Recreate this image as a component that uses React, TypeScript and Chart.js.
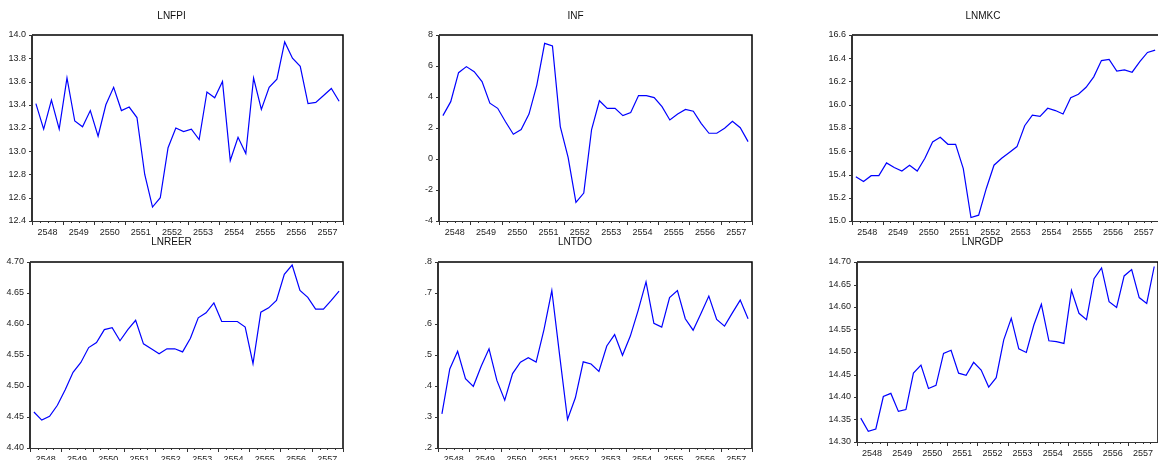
import React, { useEffect, useRef } from 'react';
import { Chart, registerables } from 'chart.js';

Chart.register(...registerables);

const FONT = "'Liberation Sans', Arial, Helvetica, sans-serif";

// Tick labels (Thai Buddhist-era years), quarterly data 2548Q1 - 2557Q4
const years = ['2548', '2549', '2550', '2551', '2552', '2553', '2554', '2555', '2556', '2557'];
const quartersPerYear = 4;

const lnfpi = [
  13.41, 13.19, 13.44, 13.19, 13.63, 13.26, 13.21, 13.35, 13.13, 13.40,
  13.55, 13.35, 13.38, 13.29, 12.80, 12.52, 12.60, 13.03, 13.20, 13.17,
  13.19, 13.10, 13.51, 13.46, 13.60, 12.92, 13.12, 12.98, 13.63, 13.36,
  13.55, 13.62, 13.94, 13.80, 13.73, 13.41, 13.42, 13.48, 13.54, 13.43,
];

const inf = [
  2.8, 3.7, 5.57, 5.96, 5.63, 5.0, 3.6, 3.27, 2.4, 1.6,
  1.9, 2.9, 4.77, 7.46, 7.29, 2.09, 0.1, -2.8, -2.2, 1.9,
  3.76, 3.27, 3.27, 2.8, 3.0, 4.09, 4.09, 3.96, 3.38, 2.52,
  2.9, 3.2, 3.08, 2.3, 1.66, 1.66, 1.98, 2.43, 2.02, 1.12,
];

const lnmkc = [
  15.38, 15.34, 15.39, 15.39, 15.50, 15.46, 15.43, 15.48, 15.43, 15.54,
  15.68, 15.72, 15.66, 15.66, 15.45, 15.03, 15.05, 15.28, 15.48, 15.54,
  15.59, 15.64, 15.82, 15.91, 15.90, 15.97, 15.95, 15.92, 16.06, 16.09,
  16.15, 16.24, 16.38, 16.39, 16.29, 16.30, 16.28, 16.37, 16.45, 16.47,
];

const lnreer = [
  4.458, 4.445, 4.451, 4.469, 4.494, 4.522, 4.538, 4.562, 4.570, 4.591,
  4.594, 4.573, 4.591, 4.606, 4.568, 4.560, 4.552, 4.560, 4.560, 4.555,
  4.577, 4.610, 4.618, 4.634, 4.604, 4.604, 4.604, 4.595, 4.536, 4.619,
  4.626, 4.638, 4.680, 4.695, 4.654, 4.643, 4.624, 4.624, 4.638, 4.653,
];

const lntdo = [
  0.310, 0.455, 0.512, 0.424, 0.399, 0.464, 0.520, 0.418, 0.354, 0.440,
  0.477, 0.491, 0.477, 0.582, 0.708, 0.498, 0.292, 0.362, 0.478, 0.471,
  0.447, 0.529, 0.566, 0.499, 0.561, 0.644, 0.736, 0.602, 0.590, 0.685,
  0.708, 0.617, 0.580, 0.634, 0.690, 0.615, 0.593, 0.636, 0.677, 0.617,
];

const lnrgdp = [
  14.353, 14.324, 14.329, 14.401, 14.408, 14.368, 14.372, 14.453, 14.471, 14.419,
  14.426, 14.497, 14.504, 14.453, 14.448, 14.477, 14.460, 14.422, 14.443, 14.527,
  14.575, 14.507, 14.499, 14.560, 14.606, 14.525, 14.523, 14.519, 14.637, 14.586,
  14.572, 14.663, 14.687, 14.612, 14.599, 14.669, 14.683, 14.621, 14.608, 14.690,
];

type Spec = {
  title: string;
  values: number[];
  yMin: number;
  yMax: number;
  yStep: number;
  fmt: (v: number) => string;
  plotL: number;
  plotR: number;
  plotT: number;
  plotB: number;
  yAxisW: number;
  canvasTop: number;
  canvasBottom: number;
  titleY: number;
};

const f1 = (v: number) => v.toFixed(1);
const f2 = (v: number) => v.toFixed(2);
const f0 = (v: number) => String(Math.round(v));
const fDot = (v: number) => v.toFixed(1).replace(/^0/, '');

const specs: Spec[] = [
  { title: 'LNFPI', values: lnfpi, yMin: 12.4, yMax: 14.0, yStep: 0.2, fmt: f1,
    plotL: 32, plotR: 343, plotT: 35, plotB: 221, yAxisW: 32, canvasTop: 0, canvasBottom: 240, titleY: 16 },
  { title: 'INF', values: inf, yMin: -4, yMax: 8, yStep: 2, fmt: f0,
    plotL: 439, plotR: 752, plotT: 35, plotB: 221, yAxisW: 40, canvasTop: 0, canvasBottom: 240, titleY: 16 },
  { title: 'LNMKC', values: lnmkc, yMin: 15.0, yMax: 16.6, yStep: 0.2, fmt: f1,
    plotL: 852, plotR: 1159, plotT: 35, plotB: 221, yAxisW: 45, canvasTop: 0, canvasBottom: 240, titleY: 16 },
  { title: 'LNREER', values: lnreer, yMin: 4.4, yMax: 4.7, yStep: 0.05, fmt: f2,
    plotL: 30, plotR: 343, plotT: 262, plotB: 448, yAxisW: 30, canvasTop: 225, canvasBottom: 460, titleY: 242.5 },
  { title: 'LNTDO', values: lntdo, yMin: 0.2, yMax: 0.8, yStep: 0.1, fmt: fDot,
    plotL: 438, plotR: 752, plotT: 262, plotB: 448, yAxisW: 40, canvasTop: 225, canvasBottom: 460, titleY: 242.5 },
  { title: 'LNRGDP', values: lnrgdp, yMin: 14.3, yMax: 14.7, yStep: 0.05, fmt: f2,
    plotL: 857, plotR: 1158, plotT: 262, plotB: 442, yAxisW: 50, canvasTop: 225, canvasBottom: 460, titleY: 242.5 },
];

const framePlugin = {
  id: 'eviewsFrame',
  afterDraw(chart: any) {
    const { ctx, chartArea } = chart;
    const { left, right, top, bottom } = chartArea;
    const xs = chart.scales.x;
    const ys = chart.scales.y;
    ctx.save();
    // y tick marks (outward)
    ctx.strokeStyle = '#333';
    ctx.lineWidth = 1;
    ctx.beginPath();
    ys.ticks.forEach((t: any) => {
      const py = Math.round(ys.getPixelForValue(t.value)) + 0.5;
      ctx.moveTo(left - 3, py);
      ctx.lineTo(left, py);
    });
    // x tick marks: major at year boundaries, minor at quarters
    xs.ticks.forEach((t: any) => {
      const px = Math.round(xs.getPixelForValue(t.value)) + 0.5;
      const len = t.value % quartersPerYear === 0 ? 4 : 2;
      ctx.moveTo(px, bottom);
      ctx.lineTo(px, bottom + len);
    });
    ctx.stroke();
    // frame
    ctx.strokeStyle = '#000';
    ctx.lineWidth = 1.5;
    ctx.beginPath();
    ctx.moveTo(left, top);
    ctx.lineTo(right, top);
    ctx.lineTo(right, bottom);
    ctx.stroke();
    ctx.strokeStyle = '#333';
    ctx.lineWidth = 1;
    ctx.beginPath();
    ctx.moveTo(left, bottom + 0.5);
    ctx.lineTo(right, bottom + 0.5);
    ctx.stroke();
    ctx.lineWidth = 2;
    ctx.beginPath();
    ctx.moveTo(left, top);
    ctx.lineTo(left, bottom + 1);
    ctx.stroke();
    ctx.restore();
  },
};

function Panel({ spec }: { spec: Spec }) {
  const ref = useRef<HTMLCanvasElement>(null);
  const canvasLeft = spec.plotL - spec.yAxisW;
  const w = spec.plotL + spec.plotR - 2 * canvasLeft;
  const h = spec.canvasBottom - spec.canvasTop;
  const xAxisH = spec.canvasBottom - spec.plotB;
  const titlePadTop = spec.titleY - spec.canvasTop - 6;
  const titlePadBottom = spec.plotT - spec.canvasTop - 12 - titlePadTop;
  const nPoints = years.length * quartersPerYear;

  useEffect(() => {
    const chart = new Chart(ref.current as HTMLCanvasElement, {
      type: 'line',
      data: {
        datasets: [
          {
            data: spec.values.map((v, i) => ({ x: i + 0.5, y: v })),
            borderColor: '#0000ff',
            borderWidth: 1.2,
            pointRadius: 0,
            tension: 0,
            fill: false,
          },
        ],
      },
      options: {
        animation: false,
        responsive: false,
        events: [],
        layout: { padding: { left: 0, right: spec.yAxisW, top: 0, bottom: 0 } },
        plugins: {
          legend: { display: false },
          tooltip: { enabled: false },
          title: {
            display: true,
            text: spec.title,
            color: '#111',
            font: { family: FONT, size: 10, weight: 'normal', lineHeight: 1.2 },
            padding: { top: titlePadTop, bottom: titlePadBottom },
          },
        },
        scales: {
          x: {
            type: 'linear',
            min: 0,
            max: nPoints,
            grid: { display: false, drawTicks: false },
            border: { display: false },
            afterBuildTicks: (s: any) => {
              s.ticks = Array.from({ length: nPoints + 1 }, (_, i) => ({ value: i }));
            },
            afterFit: (s: any) => {
              s.height = xAxisH;
            },
            ticks: {
              autoSkip: false,
              maxRotation: 0,
              minRotation: 0,
              padding: 6,
              color: '#222',
              font: { family: FONT, size: 9 },
              callback: (v: any) =>
                v % quartersPerYear === 2 ? years[(v - 2) / quartersPerYear] : '',
            },
          },
          y: {
            min: spec.yMin,
            max: spec.yMax,
            grid: { display: false, drawTicks: false },
            border: { display: false },
            afterFit: (s: any) => {
              s.width = spec.yAxisW;
            },
            ticks: {
              stepSize: spec.yStep,
              padding: 6,
              color: '#222',
              font: { family: FONT, size: 9 },
              callback: (v: any) => spec.fmt(Number(v)),
            },
          },
        },
      } as any,
      plugins: [framePlugin],
    });
    return () => chart.destroy();
  }, []);

  return (
    <canvas
      ref={ref}
      width={w}
      height={h}
      style={{ position: 'absolute', left: canvasLeft, top: spec.canvasTop, width: w, height: h }}
    />
  );
}

export default function App() {
  return (
    <div
      style={{
        position: 'fixed',
        left: 0,
        top: 0,
        width: 1158,
        height: 460,
        overflow: 'hidden',
        background: '#fff',
      }}
    >
      {specs.map((s) => (
        <Panel key={s.title} spec={s} />
      ))}
    </div>
  );
}
